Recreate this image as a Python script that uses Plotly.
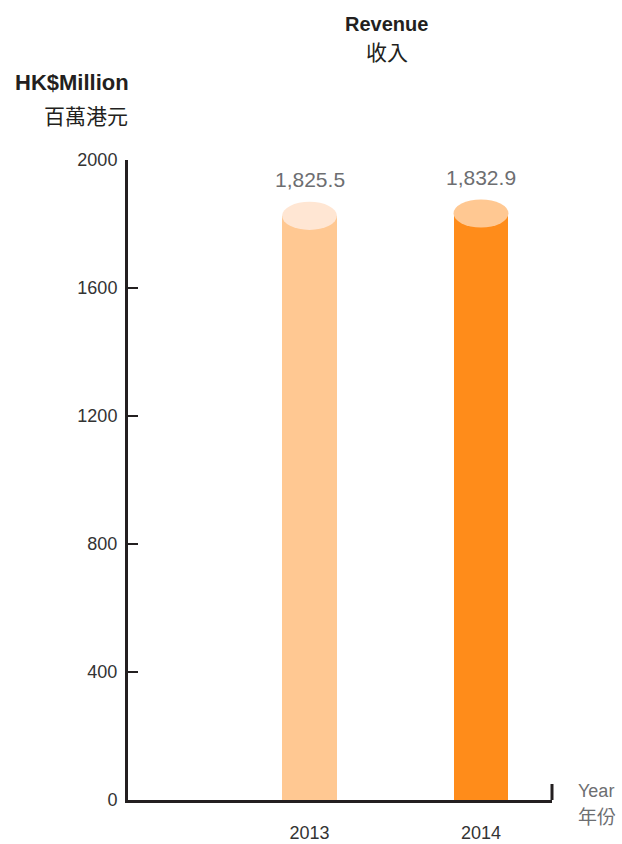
import plotly.graph_objects as go

years = ["2013", "2014"]
revenue = [1825.5, 1832.9]
value_labels = ["1,825.5", "1,832.9"]
body_colors = ["#FFC892", "#FF8C1A"]
cap_colors = ["#FFE6D3", "#FFC892"]
y_ticks = [0, 400, 800, 1200, 1600, 2000]

xpos = [1, 2]
bar_w = 0.32
cap_h = 44  # half height of cap ellipse in data units

FONT = "Liberation Sans, Arial, Helvetica, sans-serif"
CJK = "Noto Sans CJK TC, Noto Sans CJK SC, sans-serif"
AXIS = "#231f20"

fig = go.Figure()
fig.add_trace(go.Bar(
    x=xpos, y=revenue, width=bar_w, marker=dict(color=body_colors, line=dict(width=0)),
    hoverinfo="skip", showlegend=False,
))

shapes = []
for xp, v, c in zip(xpos, revenue, cap_colors):
    shapes.append(dict(type="circle", xref="x", yref="y",
                       x0=xp - bar_w / 2, x1=xp + bar_w / 2,
                       y0=v - cap_h, y1=v + cap_h,
                       fillcolor=c, line=dict(width=0), layer="above"))
# right-end tick of x axis
shapes.append(dict(type="line", xref="paper", yref="paper", x0=1, x1=1, y0=0, y1=0.025,
                   line=dict(color=AXIS, width=3)))

W, H = 622, 844
L, R, T, B = 128, 70, 160, 44
pw, ph = W - L - R, H - T - B
def px(x):
    return (x - L) / pw
def py(y):
    return (H - B - y) / ph

ann = []
for xp, v, t in zip(xpos, revenue, value_labels):
    ann.append(dict(x=xp, y=v, xref="x", yref="y", text=t, showarrow=False,
                    yshift=36, font=dict(family=FONT, size=21, color="#6d6e71")))

ann += [
    dict(x=px(386), y=py(24), xref="paper", yref="paper", text="<b>Revenue</b>", showarrow=False,
         xanchor="center", yanchor="middle", font=dict(family=FONT, size=20, color="#231f20")),
    dict(x=px(387), y=py(51), xref="paper", yref="paper", text="收入", showarrow=False,
         xanchor="center", yanchor="middle", font=dict(family=CJK, size=21, color="#231f20")),
    dict(x=px(131), y=py(82), xref="paper", yref="paper", text="<b>HK$Million</b>", showarrow=False,
         xanchor="right", yanchor="middle", font=dict(family=FONT, size=22, color="#231f20")),
    dict(x=px(130), y=py(115), xref="paper", yref="paper", text="百萬港元", showarrow=False,
         xanchor="right", yanchor="middle", font=dict(family=CJK, size=21, color="#231f20")),
    dict(x=px(576), y=py(791), xref="paper", yref="paper", text="Year", showarrow=False,
         xanchor="left", yanchor="middle", font=dict(family=FONT, size=18, color="#6d6e71")),
    dict(x=px(576), y=py(815), xref="paper", yref="paper", text="年份", showarrow=False,
         xanchor="left", yanchor="middle", font=dict(family=CJK, size=19, color="#6d6e71")),
]

fig.update_layout(
    width=W, height=H,
    margin=dict(l=L, r=R, t=T, b=B, autoexpand=False),
    paper_bgcolor="white", plot_bgcolor="white",
    bargap=0,
    shapes=shapes,
    annotations=ann,
    xaxis=dict(range=[-0.0583, 2.414], tickvals=xpos, ticktext=years, showgrid=False,
               zeroline=False, showline=True, linecolor=AXIS, linewidth=3, ticks="",
               tickfont=dict(family=FONT, size=18, color="#333333"), ticklabelstandoff=14,
               automargin=False, fixedrange=True),
    yaxis=dict(range=[0, 2000], tickvals=y_ticks, showgrid=False, zeroline=False,
               showline=True, linecolor=AXIS, linewidth=3, ticks="inside", ticklen=10,
               tickwidth=2, tickcolor=AXIS,
               tickfont=dict(family=FONT, size=18, color="#333333"), ticklabelstandoff=4,
               automargin=False, fixedrange=True),
)

fig.write_html("out.html")
